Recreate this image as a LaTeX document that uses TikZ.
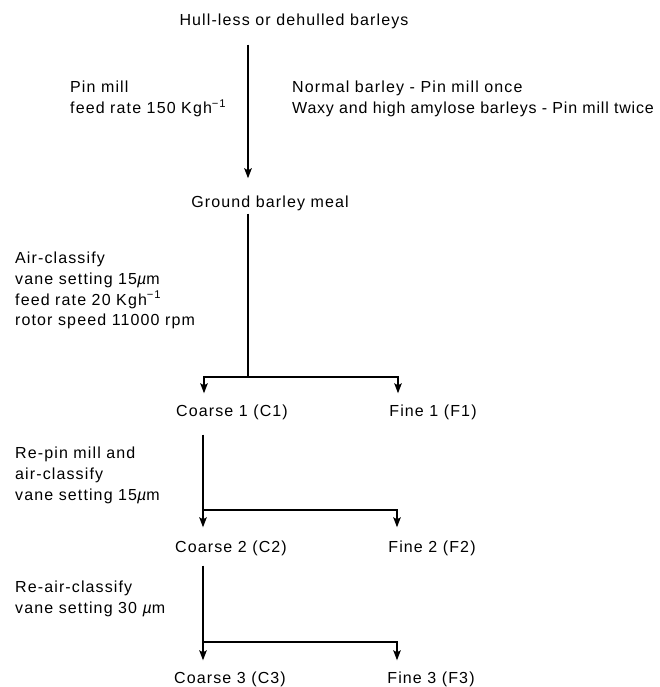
\documentclass[tikz,border=0pt]{standalone}
\usepackage{fontspec}
\setmainfont[LetterSpace=7]{Liberation Sans}
\usetikzlibrary{arrows.meta}
\begin{document}
\begin{tikzpicture}[x=1pt,y=-1pt,
  every node/.style={font=\fontsize{16}{20.7}\selectfont, inner sep=0pt},
  lbl/.style={text height=11.5pt,text depth=3.5pt},
  note/.style={align=left,anchor=north west},
  ln/.style={line width=1.5pt},
  arr/.style={ln,-{Stealth[length=10pt,width=7.5pt,inset=2pt]}}]
\useasboundingbox (0,0) rectangle (659,687);
\node[lbl] (title) at (294,22) {Hull-less or dehulled barleys};
\node[lbl] (ground) at (270,203) {Ground barley meal};
\node[lbl] (c1) at (232,412) {Coarse 1 (C1)};
\node[lbl] (f1) at (433,412) {Fine 1 (F1)};
\node[lbl] (c2) at (231,548) {Coarse 2 (C2)};
\node[lbl] (f2) at (432,548) {Fine 2 (F2)};
\node[lbl] (c3) at (230,679) {Coarse 3 (C3)};
\node[lbl] (f3) at (431,679) {Fine 3 (F3)};

\node[note] (pin) at (70,81) {Pin mill\\feed rate 150 Kgh\textsuperscript{−1}};
\node[note] (norm) at (292,81) {Normal barley - Pin mill once\\{\addfontfeature{LetterSpace=5}Waxy and high amylose barleys - Pin mill twice}};
\node[note] (air) at (15,252) {Air-classify\\vane setting 15{\itshape µ}m\\feed rate 20 Kgh\textsuperscript{−1}\\rotor speed 11000 rpm};
\node[note] (repin) at (15,447) {Re-pin mill and\\air-classify\\vane setting 15{\itshape µ}m};
\node[note] (reair) at (15,581) {Re-air-classify\\vane setting 30 {\itshape µ}m};

\coordinate (ax) at (248,0);
\coordinate (s1) at (248,377);
\coordinate (s1l) at (204,377);
\coordinate (s1r) at (398,377);
\coordinate (s2) at (203,510);
\coordinate (s2r) at (397,510);
\coordinate (s3) at (203,642);
\coordinate (s3r) at (397,642);

\draw[arr, line width=1.9pt, shorten <=15pt, shorten >=17pt] (title.south -| ax) -- (ground.north -| ax);
\draw[ln, shorten <=3pt] (ground.south -| s1) -- (s1);
\draw[arr, shorten >=11pt] (s1) -- (s1l) -- (c1.north -| s1l);
\draw[arr, shorten >=11pt] (s1) -- (s1r) -- (f1.north -| s1r);
\draw[arr, shorten <=15pt, shorten >=13pt] (c1.south -| s2) -- (c2.north -| s2);
\draw[arr, shorten >=13pt] (s2) -- (s2r) -- (f2.north -| s2r);
\draw[arr, shorten <=10pt, shorten >=11pt] (c2.south -| s3) -- (c3.north -| s3);
\draw[arr, shorten >=11pt] (s3) -- (s3r) -- (f3.north -| s3r);
\end{tikzpicture}
\end{document}
